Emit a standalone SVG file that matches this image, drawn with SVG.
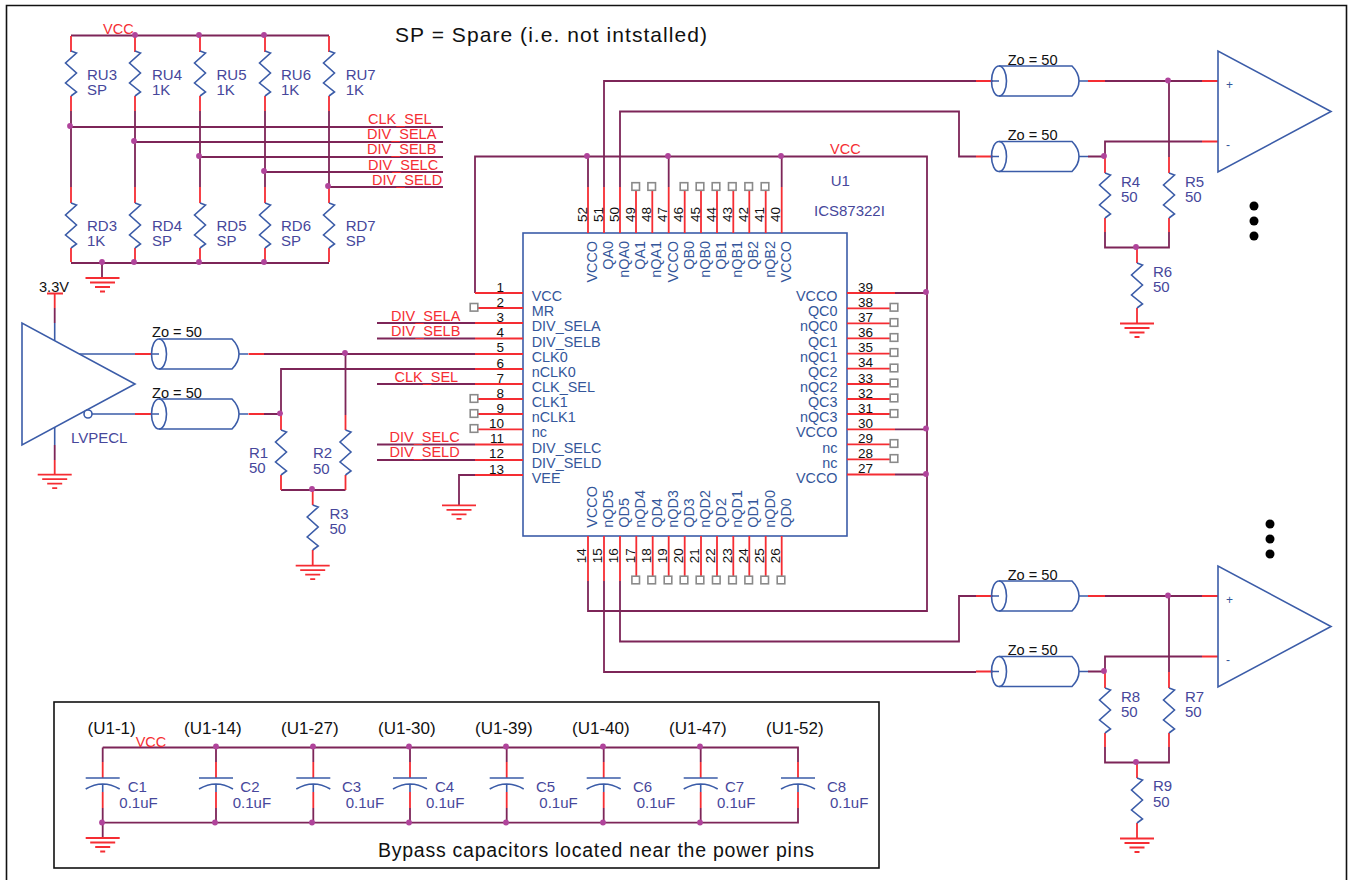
<svg xmlns="http://www.w3.org/2000/svg" width="1349" height="880" viewBox="0 0 1349 880">
<style>
text{font-family:"Liberation Sans",Arial,sans-serif}
.r,.d,.b,.k{fill:none;stroke-linejoin:miter}
.r{stroke:#f52d33;stroke-width:1.8}
.d{stroke:#7d2558;stroke-width:1.8}
.b{stroke:#3b5ca8;stroke-width:1.6}
.k{stroke:#111;stroke-width:1.6}
.dot{fill:#b0449b}
.bd{fill:#000}
.pad{fill:#fff;stroke:#8a8a8a;stroke-width:1.6}
.n{font-size:13.5px;fill:#111}
.p{font-size:14.4px;fill:#34569a}
.l{font-size:15px;fill:#46479b}
.net{font-size:14.5px;fill:#f52d33}
.t{font-size:14.6px;fill:#111}
.u{font-size:17px;fill:#111}
.big{font-size:21px;fill:#111}
</style>
<defs>
<path id="zig" class="b" d="M0 0L5.500 2L-5.500 12L5.500 22L-5.500 32L5.500 41L0 45"/>
<path id="gnd" class="r" d="M-17 0H17M-12.500 4.500H12.500M-7.500 9H7.500M-2.500 13.500H2.500"/>
<rect id="pad" class="pad" x="-3.800" y="-3.800" width="7.600" height="7.600"/>
<g id="cable"><ellipse class="b" cx="0" cy="0" rx="7.500" ry="15"/><path class="b" d="M-7 0H0M0 -15H73Q80 -8 80 0Q80 8 73 15H0M80 0H89"/></g>
<g id="cap"><path class="b" d="M-17 0H17M-17 11Q0 1 17 11M0 6V14"/></g>
</defs>
<rect x="0" y="0" width="1349" height="880" fill="#fff"/>
<g id="frame"><path class="k" d="M6.500 880V5.500H1346.500V880"/></g>
<text class="big" x="395" y="42" textLength="312">SP = Spare (i.e. not intstalled)</text>

<g id="connectors">
<path class="d" d="M71 35.500H329M71 263H329M71 111V187M135 111V187M200 111V187M265 111V187M329 111V187M70 127H443M134 142H443M199 157H443M264 172H443M328 187H443M102 263V277"/>
<path class="r" d="M71 36V52M71 96V111M71 187V203M71 248V262M135 36V52M135 96V111M135 187V203M135 248V262M200 36V52M200 96V111M200 187V203M200 248V262M265 36V52M265 96V111M265 187V203M265 248V262M329 36V52M329 96V111M329 187V203M329 248V262"/>
<path class="d" d="M475 293V156.500H927V611H588V581M588 156.500V187M668.700 156.500V187M781.700 156.500V187M604 187V81H976M620 187V111.500H959V156.500H976M895 293H927M895 429.300H927M895 474.500H927M620 581V641.500H959V596H976M604 581V672H976"/>
<path class="d" d="M1105 81H1202M1088 156.500H1105V141.500H1202M1169 81V157M1105 232V247.500H1169V232"/>
<path class="d" d="M1105 596H1202M1088 671.500H1105V656.500H1202M1169 596V672M1105 747V762.500H1169V747"/>
<path class="r" d="M976 81H993M976 156.500H993M1088 81H1105M1202 81H1218M1202 141.500H1218M1105 157V173M1105 218V232M1169 157V173M1169 218V232M1137 248V263M1137 308V323.500"/>
<path class="r" d="M976 596H993M976 671.500H993M1088 596H1105M1202 596H1218M1202 656.500H1218M1105 672V688M1105 733V747M1169 672V688M1169 733V747M1137 763V778M1137 823V838.500"/>
<path class="d" d="M264 354H475M475 369H281V414M264 414H281M281 490H345.500M345.500 354V415M377 323H475M377 338.500H475M377 384H475M377 444.500H475M377 460H475M475 475H459V505M54.700 308V323M54.700 445V460"/>
<path class="r" d="M135 354H152M248.500 354H264M135 414H152M248.500 414H264M281 414V430M281 475V490M345.500 415V430M345.500 475V490M312.700 490V505M312.700 550V565.700M47 293.500H63M54.700 294V308M54.700 460V474.700"/>
<path class="b" d="M79.400 354H135M92 414H135M54.700 323V340.500M54.700 427V445"/>
<path class="d" d="M102.700 747.500H798V762M102.700 822.700H798V808M102.700 747.500V762M216 747.500V762M313.300 747.500V762M410 747.500V762M506.700 747.500V762M603.700 747.500V762M700.700 747.500V762M102.700 808V838M216 808V823M313.300 808V823M410 808V823M506.700 808V823M603.700 808V823M700.700 808V823"/>
<path class="r" d="M102.700 762V778M216 762V778M313.300 762V778M410 762V778M506.700 762V778M603.700 762V778M700.700 762V778M798 762V778M102.700 792V808M216 792V808M313.300 792V808M410 792V808M506.700 792V808M603.700 792V808M700.700 792V808M798 792V808"/>
<g>
<circle class="dot" cx="135" cy="35" r="2.900"/><circle class="dot" cx="199" cy="35" r="2.900"/><circle class="dot" cx="264" cy="35" r="2.900"/>
<circle class="dot" cx="70" cy="126" r="2.900"/><circle class="dot" cx="134" cy="141" r="2.900"/><circle class="dot" cx="199" cy="156" r="2.900"/><circle class="dot" cx="264" cy="171" r="2.900"/><circle class="dot" cx="328" cy="186" r="2.900"/>
<circle class="dot" cx="102" cy="262" r="2.900"/><circle class="dot" cx="134" cy="262" r="2.900"/><circle class="dot" cx="199" cy="262" r="2.900"/><circle class="dot" cx="264" cy="262" r="2.900"/>
<circle class="dot" cx="587" cy="156" r="2.900"/><circle class="dot" cx="668" cy="156" r="2.900"/><circle class="dot" cx="781" cy="156" r="2.900"/>
<circle class="dot" cx="926" cy="292" r="2.900"/><circle class="dot" cx="926" cy="428.500" r="2.900"/><circle class="dot" cx="926" cy="474" r="2.900"/>
<circle class="dot" cx="345" cy="353" r="2.900"/><circle class="dot" cx="280" cy="413.300" r="2.900"/><circle class="dot" cx="312" cy="489" r="2.900"/>
<circle class="dot" cx="1168" cy="80.500" r="2.900"/><circle class="dot" cx="1104" cy="156" r="2.900"/><circle class="dot" cx="1136" cy="247" r="2.900"/>
<circle class="dot" cx="1168" cy="595.500" r="2.900"/><circle class="dot" cx="1104" cy="671" r="2.900"/><circle class="dot" cx="1136" cy="762" r="2.900"/>
<circle class="dot" cx="216" cy="746.500" r="2.900"/><circle class="dot" cx="313" cy="746.500" r="2.900"/><circle class="dot" cx="409" cy="746.500" r="2.900"/><circle class="dot" cx="506" cy="746.500" r="2.900"/><circle class="dot" cx="603" cy="746.500" r="2.900"/><circle class="dot" cx="700" cy="746.500" r="2.900"/>
<circle class="dot" cx="102" cy="822.500" r="2.900"/><circle class="dot" cx="215" cy="822.500" r="2.900"/><circle class="dot" cx="312" cy="822.500" r="2.900"/><circle class="dot" cx="409" cy="822.500" r="2.900"/><circle class="dot" cx="506" cy="822.500" r="2.900"/><circle class="dot" cx="603" cy="822.500" r="2.900"/><circle class="dot" cx="700" cy="822.500" r="2.900"/>
</g>
</g>

<g id="net-labels">
<text class="net" x="103" y="34">VCC</text>
<text class="net" x="368" y="124">CLK_SEL</text>
<text class="net" x="367" y="139">DIV_SELA</text>
<text class="net" x="367" y="154">DIV_SELB</text>
<text class="net" x="368" y="170">DIV_SELC</text>
<text class="net" x="372" y="185">DIV_SELD</text>
<text class="net" x="830" y="154">VCC</text>
<text class="net" x="391" y="321">DIV_SELA</text>
<text class="net" x="391" y="336">DIV_SELB</text>
<text class="net" x="394.500" y="382">CLK_SEL</text>
<text class="net" x="389.500" y="442">DIV_SELC</text>
<text class="net" x="389.500" y="457">DIV_SELD</text>
<text class="net" x="135.700" y="747">VCC</text>
</g>

<g id="RU3"><use href="#zig" x="71" y="51"/><text class="l" x="87" y="80">RU3</text><text class="l" x="87" y="95">SP</text></g>
<g id="RU4"><use href="#zig" x="135" y="51"/><text class="l" x="152" y="80">RU4</text><text class="l" x="152" y="95">1K</text></g>
<g id="RU5"><use href="#zig" x="200" y="51"/><text class="l" x="216.500" y="80">RU5</text><text class="l" x="216.500" y="95">1K</text></g>
<g id="RU6"><use href="#zig" x="265" y="51"/><text class="l" x="281" y="80">RU6</text><text class="l" x="281" y="95">1K</text></g>
<g id="RU7"><use href="#zig" x="329" y="51"/><text class="l" x="345.700" y="80">RU7</text><text class="l" x="345.700" y="95">1K</text></g>
<g id="RD3"><use href="#zig" x="71" y="203"/><text class="l" x="87" y="231">RD3</text><text class="l" x="87" y="246">1K</text></g>
<g id="RD4"><use href="#zig" x="135" y="203"/><text class="l" x="152" y="231">RD4</text><text class="l" x="152" y="246">SP</text></g>
<g id="RD5"><use href="#zig" x="200" y="203"/><text class="l" x="216.500" y="231">RD5</text><text class="l" x="216.500" y="246">SP</text></g>
<g id="RD6"><use href="#zig" x="265" y="203"/><text class="l" x="281" y="231">RD6</text><text class="l" x="281" y="246">SP</text></g>
<g id="RD7"><use href="#zig" x="329" y="203"/><text class="l" x="345.700" y="231">RD7</text><text class="l" x="345.700" y="246">SP</text></g>
<g id="GND1"><use href="#gnd" x="102.500" y="278"/></g>

<g id="driver">
<path class="b" d="M22 323V445L135 384Z"/>
<circle class="b" cx="88" cy="414" r="4" style="fill:#fff"/>
<text class="t" x="39" y="292">3.3V</text>
<text class="l" x="71" y="443">LVPECL</text>
</g>
<g id="GND2"><use href="#gnd" x="54.700" y="474.700"/></g>
<g id="TL1"><use href="#cable" x="159" y="354"/><text class="t" x="152" y="337">Zo = 50</text></g>
<g id="TL2"><use href="#cable" x="159" y="414"/><text class="t" x="152" y="398">Zo = 50</text></g>
<g id="R1"><use href="#zig" x="281" y="430"/><text class="l" x="249" y="458">R1</text><text class="l" x="249" y="473">50</text></g>
<g id="R2"><use href="#zig" x="345.500" y="430"/><text class="l" x="313" y="458">R2</text><text class="l" x="313" y="474">50</text></g>
<g id="R3"><use href="#zig" x="312.700" y="505"/><text class="l" x="329.500" y="519">R3</text><text class="l" x="329.500" y="534">50</text></g>
<g id="GND3"><use href="#gnd" x="312.700" y="565.700"/></g>
<g id="GND4"><use href="#gnd" x="459" y="505.300"/></g>

<g id="U1">
<rect class="b" x="523" y="233" width="324" height="303"/>
<path class="r" d="M475 293H523M478 308H523M475 323H523M475 338.500H523M475 354H523M475 369H523M475 384H523M478 399H523M478 414H523M478 429.300H523M475 444.500H523M475 460H523M475 475H523"/>
<path class="r" d="M847 293H895M847 308.300H890M847 323.300H890M847 338.300H890M847 353.700H890M847 368.700H890M847 384H890M847 399H890M847 414H890M847 429.300H895M847 444.300H890M847 459.300H890M847 474.500H895"/>
<path class="r" d="M588 233V187M604 233V187M620 233V187M636 233V190M652.300 233V190M668.700 233V187M684.700 233V190M701 233V190M717 233V190M733.300 233V190M749.300 233V190M765.700 233V190M781.700 233V187"/>
<path class="r" d="M588 536V581M604 536V581M620 536V581M636.300 536V576M652.700 536V576M668.700 536V576M684.700 536V576M701 536V576M717 536V576M733.300 536V576M749.300 536V576M765.700 536V576M781.700 536V576"/>
<use href="#pad" x="474" y="307.300"/><use href="#pad" x="474" y="398.500"/><use href="#pad" x="474" y="413.500"/><use href="#pad" x="474" y="428.500"/>
<use href="#pad" x="894" y="307.300"/><use href="#pad" x="894" y="322.500"/><use href="#pad" x="894" y="337.500"/><use href="#pad" x="894" y="352.500"/><use href="#pad" x="894" y="368"/><use href="#pad" x="894" y="383"/><use href="#pad" x="894" y="398"/><use href="#pad" x="894" y="413.500"/><use href="#pad" x="894" y="443.500"/><use href="#pad" x="894" y="458.500"/>
<use href="#pad" x="635.700" y="186.500"/><use href="#pad" x="651.700" y="186.500"/><use href="#pad" x="684" y="186.500"/><use href="#pad" x="700" y="186.500"/><use href="#pad" x="716" y="186.500"/><use href="#pad" x="732.300" y="186.500"/><use href="#pad" x="748.700" y="186.500"/><use href="#pad" x="765" y="186.500"/>
<use href="#pad" x="635.700" y="580"/><use href="#pad" x="651.700" y="580"/><use href="#pad" x="668" y="580"/><use href="#pad" x="684" y="580"/><use href="#pad" x="700" y="580"/><use href="#pad" x="716.300" y="580"/><use href="#pad" x="732.500" y="580"/><use href="#pad" x="748.700" y="580"/><use href="#pad" x="764.700" y="580"/><use href="#pad" x="781" y="580"/>
<text class="l" x="830.700" y="186">U1</text>
<text class="l" x="814" y="216">ICS87322I</text>
<g text-anchor="end">
<text class="n" x="504" y="291.500">1</text><text class="n" x="504" y="306.500">2</text><text class="n" x="504" y="321.500">3</text><text class="n" x="504" y="337">4</text><text class="n" x="504" y="352">5</text><text class="n" x="504" y="367.500">6</text><text class="n" x="504" y="382.500">7</text><text class="n" x="504" y="397.500">8</text><text class="n" x="504" y="412.500">9</text><text class="n" x="504" y="427.800">10</text><text class="n" x="504" y="443">11</text><text class="n" x="504" y="458">12</text><text class="n" x="504" y="473.500">13</text>
</g>
<text class="n" x="858" y="291.500">39</text><text class="n" x="858" y="306.800">38</text><text class="n" x="858" y="321.800">37</text><text class="n" x="858" y="336.800">36</text><text class="n" x="858" y="352.200">35</text><text class="n" x="858" y="367.200">34</text><text class="n" x="858" y="382.500">33</text><text class="n" x="858" y="397.500">32</text><text class="n" x="858" y="412.500">31</text><text class="n" x="858" y="427.800">30</text><text class="n" x="858" y="442.800">29</text><text class="n" x="858" y="457.800">28</text><text class="n" x="858" y="473">27</text>
<text class="p" x="531.700" y="301">VCC</text><text class="p" x="531.700" y="316">MR</text><text class="p" x="531.700" y="331">DIV_SELA</text><text class="p" x="531.700" y="346.500">DIV_SELB</text><text class="p" x="531.700" y="362">CLK0</text><text class="p" x="531.700" y="377">nCLK0</text><text class="p" x="531.700" y="392">CLK_SEL</text><text class="p" x="531.700" y="407">CLK1</text><text class="p" x="531.700" y="422">nCLK1</text><text class="p" x="531.700" y="437">nc</text><text class="p" x="531.700" y="452.500">DIV_SELC</text><text class="p" x="531.700" y="468">DIV_SELD</text><text class="p" x="531.700" y="483">VEE</text>
<g text-anchor="end">
<text class="p" x="837.500" y="301">VCCO</text><text class="p" x="837.500" y="316">QC0</text><text class="p" x="837.500" y="331">nQC0</text><text class="p" x="837.500" y="346.500">QC1</text><text class="p" x="837.500" y="362">nQC1</text><text class="p" x="837.500" y="377">QC2</text><text class="p" x="837.500" y="392">nQC2</text><text class="p" x="837.500" y="407">QC3</text><text class="p" x="837.500" y="422">nQC3</text><text class="p" x="837.500" y="437">VCCO</text><text class="p" x="837.500" y="452.500">nc</text><text class="p" x="837.500" y="468">nc</text><text class="p" x="837.500" y="483">VCCO</text>
</g>
<g>
<text class="n" transform="rotate(-90 586.500 222)" x="586.500" y="222">52</text><text class="n" transform="rotate(-90 602.500 222)" x="602.500" y="222">51</text><text class="n" transform="rotate(-90 618.500 222)" x="618.500" y="222">50</text><text class="n" transform="rotate(-90 634.500 222)" x="634.500" y="222">49</text><text class="n" transform="rotate(-90 650.800 222)" x="650.800" y="222">48</text><text class="n" transform="rotate(-90 667.200 222)" x="667.200" y="222">47</text><text class="n" transform="rotate(-90 683.200 222)" x="683.200" y="222">46</text><text class="n" transform="rotate(-90 699.500 222)" x="699.500" y="222">45</text><text class="n" transform="rotate(-90 715.500 222)" x="715.500" y="222">44</text><text class="n" transform="rotate(-90 731.800 222)" x="731.800" y="222">43</text><text class="n" transform="rotate(-90 747.800 222)" x="747.800" y="222">42</text><text class="n" transform="rotate(-90 764.200 222)" x="764.200" y="222">41</text><text class="n" transform="rotate(-90 780.200 222)" x="780.200" y="222">40</text>
<text class="n" transform="rotate(-90 586.500 563.300)" x="586.500" y="563.300">14</text><text class="n" transform="rotate(-90 602.500 563.300)" x="602.500" y="563.300">15</text><text class="n" transform="rotate(-90 618.500 563.300)" x="618.500" y="563.300">16</text><text class="n" transform="rotate(-90 634.800 563.300)" x="634.800" y="563.300">17</text><text class="n" transform="rotate(-90 651.200 563.300)" x="651.200" y="563.300">18</text><text class="n" transform="rotate(-90 667.200 563.300)" x="667.200" y="563.300">19</text><text class="n" transform="rotate(-90 683.200 563.300)" x="683.200" y="563.300">20</text><text class="n" transform="rotate(-90 699.500 563.300)" x="699.500" y="563.300">21</text><text class="n" transform="rotate(-90 715.500 563.300)" x="715.500" y="563.300">22</text><text class="n" transform="rotate(-90 731.800 563.300)" x="731.800" y="563.300">23</text><text class="n" transform="rotate(-90 747.800 563.300)" x="747.800" y="563.300">24</text><text class="n" transform="rotate(-90 764.200 563.300)" x="764.200" y="563.300">25</text><text class="n" transform="rotate(-90 780.200 563.300)" x="780.200" y="563.300">26</text>
</g>
<g text-anchor="end">
<text class="p" transform="rotate(-90 597 241)" x="597" y="241">VCCO</text><text class="p" transform="rotate(-90 613 241)" x="613" y="241">QA0</text><text class="p" transform="rotate(-90 629 241)" x="629" y="241">nQA0</text><text class="p" transform="rotate(-90 645 241)" x="645" y="241">QA1</text><text class="p" transform="rotate(-90 661.300 241)" x="661.300" y="241">nQA1</text><text class="p" transform="rotate(-90 677.700 241)" x="677.700" y="241">VCCO</text><text class="p" transform="rotate(-90 693.700 241)" x="693.700" y="241">QB0</text><text class="p" transform="rotate(-90 710 241)" x="710" y="241">nQB0</text><text class="p" transform="rotate(-90 726 241)" x="726" y="241">QB1</text><text class="p" transform="rotate(-90 742.300 241)" x="742.300" y="241">nQB1</text><text class="p" transform="rotate(-90 758.300 241)" x="758.300" y="241">QB2</text><text class="p" transform="rotate(-90 774.700 241)" x="774.700" y="241">nQB2</text><text class="p" transform="rotate(-90 790.700 241)" x="790.700" y="241">VCCO</text>
</g>
<g>
<text class="p" transform="rotate(-90 597 527.700)" x="597" y="527.700">VCCO</text><text class="p" transform="rotate(-90 613 527.700)" x="613" y="527.700">nQD5</text><text class="p" transform="rotate(-90 629 527.700)" x="629" y="527.700">QD5</text><text class="p" transform="rotate(-90 645.300 527.700)" x="645.300" y="527.700">nQD4</text><text class="p" transform="rotate(-90 661.700 527.700)" x="661.700" y="527.700">QD4</text><text class="p" transform="rotate(-90 677.700 527.700)" x="677.700" y="527.700">nQD3</text><text class="p" transform="rotate(-90 693.700 527.700)" x="693.700" y="527.700">QD3</text><text class="p" transform="rotate(-90 710 527.700)" x="710" y="527.700">nQD2</text><text class="p" transform="rotate(-90 726 527.700)" x="726" y="527.700">QD2</text><text class="p" transform="rotate(-90 742.300 527.700)" x="742.300" y="527.700">nQD1</text><text class="p" transform="rotate(-90 758.300 527.700)" x="758.300" y="527.700">QD1</text><text class="p" transform="rotate(-90 774.700 527.700)" x="774.700" y="527.700">nQD0</text><text class="p" transform="rotate(-90 790.700 527.700)" x="790.700" y="527.700">QD0</text>
</g>
</g>

<g id="TL3"><use href="#cable" x="999" y="81"/><text class="t" x="1007.700" y="65">Zo = 50</text></g>
<g id="TL4"><use href="#cable" x="999" y="156.500"/><text class="t" x="1007.700" y="140">Zo = 50</text></g>
<g id="AMP1"><path class="b" d="M1218 51V172L1331 111.500Z"/><text class="p" x="1226" y="88.500" style="font-size:12px">+</text><text class="p" x="1226" y="149" style="font-size:12px">-</text></g>
<g id="R4"><use href="#zig" x="1105" y="173"/><text class="l" x="1121" y="187">R4</text><text class="l" x="1121" y="202">50</text></g>
<g id="R5"><use href="#zig" x="1169" y="173"/><text class="l" x="1185" y="187">R5</text><text class="l" x="1185" y="202">50</text></g>
<g id="R6"><use href="#zig" x="1137" y="263"/><text class="l" x="1153" y="277">R6</text><text class="l" x="1153" y="292">50</text></g>
<g id="GND5"><use href="#gnd" x="1137" y="323.500"/></g>
<g id="ellipsis1"><circle class="bd" cx="1254" cy="206" r="4.500"/><circle class="bd" cx="1254" cy="221" r="4.500"/><circle class="bd" cx="1254" cy="236" r="4.500"/></g>

<g id="TL5"><use href="#cable" x="999" y="596"/><text class="t" x="1007.700" y="580">Zo = 50</text></g>
<g id="TL6"><use href="#cable" x="999" y="671.500"/><text class="t" x="1007.700" y="655">Zo = 50</text></g>
<g id="AMP2"><path class="b" d="M1218 566V687L1331 626.500Z"/><text class="p" x="1226" y="603.500" style="font-size:12px">+</text><text class="p" x="1226" y="664" style="font-size:12px">-</text></g>
<g id="R8"><use href="#zig" x="1105" y="688"/><text class="l" x="1121" y="702">R8</text><text class="l" x="1121" y="717">50</text></g>
<g id="R7"><use href="#zig" x="1169" y="688"/><text class="l" x="1185" y="702">R7</text><text class="l" x="1185" y="717">50</text></g>
<g id="R9"><use href="#zig" x="1137" y="778"/><text class="l" x="1153" y="791">R9</text><text class="l" x="1153" y="807">50</text></g>
<g id="GND6"><use href="#gnd" x="1137" y="838.500"/></g>
<g id="ellipsis2"><circle class="bd" cx="1270" cy="524" r="4.500"/><circle class="bd" cx="1270" cy="539" r="4.500"/><circle class="bd" cx="1270" cy="554" r="4.500"/></g>

<g id="bypass">
<rect class="k" x="54" y="702" width="825" height="166"/>
<text class="u" x="87.500" y="734">(U1-1)</text><text class="u" x="184" y="734">(U1-14)</text><text class="u" x="281" y="734">(U1-27)</text><text class="u" x="378" y="734">(U1-30)</text><text class="u" x="475" y="734">(U1-39)</text><text class="u" x="572" y="734">(U1-40)</text><text class="u" x="669" y="734">(U1-47)</text><text class="u" x="766" y="734">(U1-52)</text>
<text class="big" x="378" y="857" textLength="436" style="font-size:19.500px">Bypass capacitors located near the power pins</text>
</g>
<g id="C1"><use href="#cap" x="102.700" y="778"/><text class="l" x="127.700" y="792">C1</text><text class="l" x="119.300" y="808">0.1uF</text></g>
<g id="C2"><use href="#cap" x="216" y="778"/><text class="l" x="240.300" y="792">C2</text><text class="l" x="232.700" y="808">0.1uF</text></g>
<g id="C3"><use href="#cap" x="313.300" y="778"/><text class="l" x="342" y="792">C3</text><text class="l" x="345.700" y="808">0.1uF</text></g>
<g id="C4"><use href="#cap" x="410" y="778"/><text class="l" x="435" y="792">C4</text><text class="l" x="426" y="808">0.1uF</text></g>
<g id="C5"><use href="#cap" x="506.700" y="778"/><text class="l" x="536" y="792">C5</text><text class="l" x="539.300" y="808">0.1uF</text></g>
<g id="C6"><use href="#cap" x="603.700" y="778"/><text class="l" x="633" y="792">C6</text><text class="l" x="636.700" y="808">0.1uF</text></g>
<g id="C7"><use href="#cap" x="700.700" y="778"/><text class="l" x="725" y="792">C7</text><text class="l" x="717" y="808">0.1uF</text></g>
<g id="C8"><use href="#cap" x="798" y="778"/><text class="l" x="827" y="792">C8</text><text class="l" x="830" y="808">0.1uF</text></g>
<g id="GND7"><use href="#gnd" x="102.700" y="838"/></g>
</svg>
